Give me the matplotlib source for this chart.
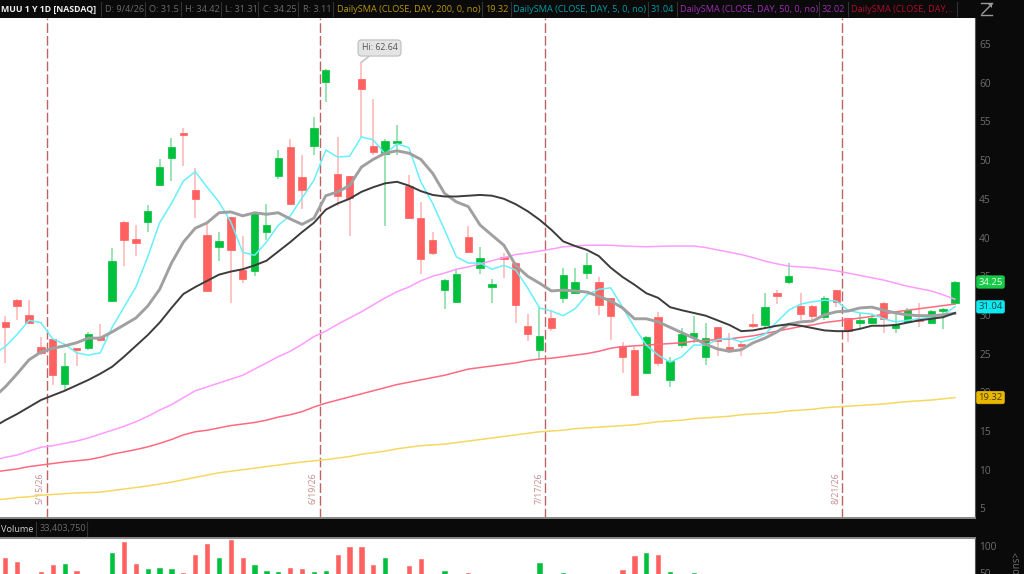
import matplotlib
matplotlib.use("Agg")
import matplotlib.pyplot as plt
from matplotlib.lines import Line2D
from matplotlib.patches import Polygon
from matplotlib.transforms import blended_transform_factory

# daily bars
opens = [29.1, 31.9, 30.0, 25.85, 26.9, 21.1, 25.7, 25.7, 27.2, 31.8,
         42.0, 39.8, 42.0, 46.8, 50.3, 53.5, 46.1, 40.3, 38.8, 42.6,
         35.8, 35.7, 40.7, 47.9, 51.7, 47.8, 51.8, 60.1, 48.2, 47.9,
         60.5, 51.8, 50.8, 52.2, 46.7, 42.5, 39.7, 33.2, 31.7, 40.1,
         36.1, 33.6, 37.5, 36.7, 28.6, 25.5, 29.6, 32.2, 32.8, 35.4,
         34.25, 32.2, 26.0, 25.5, 22.5, 29.7, 21.6, 26.1, 27.2, 24.6,
         28.4, 25.85, 26.2, 28.8, 28.7, 32.8, 34.25, 31.15, 31.15, 29.7,
         33.2, 29.6, 29.0, 29.0, 31.5, 28.3, 29.1, 29.6, 29.0, 30.5, 31.5]
highs = [29.9, 32.1, 31.9, 27.2, 26.9, 25.1, 25.7, 27.8, 28.8, 38.7,
         42.1, 41.6, 44.2, 50.1, 52.9, 54.1, 49.0, 41.7, 40.7, 42.6,
         40.2, 43.2, 44.3, 51.3, 52.7, 50.7, 55.6, 61.8, 53.0, 47.9,
         62.64, 57.9, 52.7, 54.5, 48.1, 44.6, 40.7, 34.6, 35.9, 41.5,
         38.8, 34.6, 38.0, 36.8, 30.1, 30.9, 30.6, 36.1, 36.1, 38.0,
         34.9, 32.2, 26.5, 25.85, 27.3, 30.4, 24.6, 28.3, 29.9, 29.0,
         28.4, 27.7, 26.6, 30.1, 32.8, 33.2, 36.7, 32.8, 31.3, 32.4,
         33.2, 29.6, 30.25, 30.0, 31.7, 30.25, 30.9, 31.5, 30.6, 30.9, 34.42]
lows = [23.8, 29.3, 29.0, 24.8, 20.95, 20.3, 23.4, 25.5, 26.6, 31.7,
        36.3, 37.6, 40.7, 46.8, 47.3, 49.2, 42.5, 33.1, 37.0, 31.5,
        34.1, 35.0, 39.7, 47.6, 44.2, 43.7, 50.7, 57.5, 44.1, 40.2,
        53.0, 50.7, 41.5, 50.7, 42.5, 35.3, 37.7, 30.8, 31.5, 38.0,
        35.3, 31.5, 34.8, 29.0, 26.6, 24.3, 27.9, 31.5, 32.7, 34.6,
        30.0, 26.8, 22.5, 19.65, 22.5, 23.4, 20.7, 25.7, 26.4, 23.5,
        24.7, 25.1, 24.7, 28.3, 28.3, 31.4, 34.0, 29.3, 29.1, 29.3,
        31.0, 26.5, 28.3, 28.8, 27.7, 27.7, 29.0, 28.4, 28.8, 28.2, 31.31]
closes = [28.4, 31.15, 29.0, 25.1, 22.25, 23.4, 25.5, 27.5, 26.8, 37.0,
          39.7, 39.3, 43.4, 49.1, 51.7, 53.2, 45.0, 33.1, 39.5, 38.4,
          34.6, 43.2, 41.6, 50.3, 44.3, 46.1, 54.1, 61.6, 45.4, 45.1,
          59.2, 51.0, 52.5, 52.5, 42.5, 37.2, 38.0, 34.5, 35.3, 38.1,
          37.3, 34.0, 37.2, 31.3, 27.5, 27.3, 28.3, 35.2, 34.25, 36.4,
          31.3, 29.9, 24.6, 19.65, 27.2, 23.8, 24.05, 27.5, 27.7, 27.0,
          26.6, 25.6, 26.0, 28.6, 31.0, 32.4, 35.0, 30.1, 29.9, 32.2,
          31.7, 27.9, 29.3, 29.6, 29.5, 28.8, 30.6, 29.2, 30.5, 30.8, 34.25]

# volume in millions, bars under 48 are below the visible part of the panel
volume = [78, 70, 42, 51, 64, 67, 54, 40, 38, 87,
          107, 67, 58, 59, 58, 50, 83, 104, 78, 111,
          78, 65, 54, 51, 59, 57, 52, 54, 83, 98,
          98, 65, 78, 42, 63, 76, 44, 54, 40, 50.5,
          38, 36, 40, 42, 38, 68, 40, 50.5, 38, 36,
          40, 42, 56, 82, 87, 83, 52, 40, 50.5, 38,
          36, 34, 32, 36, 40, 34, 42, 36, 32, 34,
          36, 40, 30, 28, 34, 30, 32, 30, 28, 26, 33]

# moving averages, first value is the bar just off the left edge
sma200 = [6.1, 6.2, 6.4, 6.5, 6.7, 6.8, 6.9, 7.0, 7.05, 7.1, 7.3,
          7.5, 7.7, 7.9, 8.15, 8.4, 8.7, 9.0, 9.3, 9.6, 9.8,
          10.0, 10.2, 10.4, 10.6, 10.8, 11.0, 11.15, 11.3, 11.5, 11.7,
          12.0, 12.2, 12.4, 12.7, 12.9, 13.1, 13.2, 13.3, 13.5, 13.7,
          13.9, 14.1, 14.3, 14.5, 14.7, 14.9, 15.0, 15.1, 15.3, 15.4,
          15.5, 15.6, 15.7, 15.8, 16.0, 16.2, 16.3, 16.4, 16.6, 16.7,
          16.8, 16.9, 17.1, 17.2, 17.3, 17.4, 17.6, 17.7, 17.8, 18.0,
          18.1, 18.2, 18.3, 18.4, 18.5, 18.65, 18.8, 18.9, 19.0, 19.15, 19.32]
sma_red = [9.7, 9.9, 10.1, 10.4, 10.6, 10.8, 11.0, 11.15, 11.3, 11.6, 12.0,
           12.3, 12.6, 12.95, 13.4, 13.9, 14.5, 14.9, 15.1, 15.4, 15.7,
           15.9, 16.1, 16.4, 16.8, 17.1, 17.5, 18.1, 18.6, 19.0, 19.4,
           19.8, 20.2, 20.6, 21.0, 21.3, 21.6, 21.9, 22.2, 22.6, 23.0,
           23.2, 23.4, 23.6, 23.8, 24.1, 24.3, 24.4, 24.6, 24.8, 25.0,
           25.3, 25.7, 25.9, 26.0, 26.1, 26.2, 26.3, 26.4, 26.6, 26.7,
           26.8, 26.9, 27.1, 27.3, 27.6, 27.9, 28.2, 28.5, 28.7, 29.0,
           29.2, 29.4, 29.6, 29.8, 30.1, 30.4, 30.6, 30.8, 31.0, 31.2, 31.4]
sma50 = [11.2, 11.6, 11.9, 12.4, 12.9, 13.1, 13.4, 13.7, 14.1, 14.6, 15.1,
         15.6, 16.2, 16.9, 17.7, 18.4, 19.3, 20.2, 20.7, 21.2, 21.7,
         22.2, 23.0, 23.8, 24.6, 25.3, 26.2, 27.2, 27.9, 28.8, 29.6,
         30.4, 31.3, 32.2, 33.0, 33.6, 34.4, 35.0, 35.4, 35.9, 36.2,
         36.6, 37.0, 37.4, 37.8, 38.0, 38.25, 38.5, 38.8, 38.9, 39.0,
         39.0, 39.0, 38.9, 38.85, 38.8, 38.85, 38.9, 38.9, 38.9, 38.7,
         38.4, 38.1, 37.8, 37.4, 36.95, 36.6, 36.3, 36.2, 36.1, 35.9,
         35.7, 35.4, 35.1, 34.8, 34.5, 34.1, 33.7, 33.4, 33.1, 32.6, 32.02]
sma_black = [15.5, 16.4, 17.2, 18.1, 19.0, 19.6, 20.2, 20.9, 21.6, 22.4, 23.3,
             24.6, 26.0, 27.4, 29.0, 30.9, 32.7, 33.6, 34.4, 35.2, 35.6,
             35.9, 36.4, 37.0, 38.2, 39.4, 40.7, 41.9, 43.6, 44.4, 45.0,
             45.9, 46.5, 47.0, 47.2, 46.7, 46.0, 45.5, 45.3, 45.3, 45.4,
             45.5, 45.4, 45.0, 44.3, 43.4, 42.3, 41.0, 39.5, 38.9, 38.4,
             37.6, 36.1, 34.9, 33.9, 32.8, 32.2, 31.0, 30.6, 30.25, 29.9,
             29.3, 28.7, 27.9, 28.0, 28.3, 28.6, 28.8, 28.6, 28.3, 28.0,
             27.9, 27.9, 28.2, 28.6, 28.6, 28.7, 29.0, 29.3, 29.5, 29.7, 30.25]
sma_grey = [19.3, 20.7, 22.4, 24.2, 25.2, 25.7, 26.0, 26.4, 27.0, 27.0, 27.8,
            28.7, 29.6, 31.15, 33.3, 36.7, 39.4, 41.2, 41.9, 43.2, 43.3,
            42.8, 43.2, 43.0, 43.2, 42.4, 41.7, 42.5, 45.4, 45.9, 46.7,
            49.1, 50.1, 50.9, 51.2, 50.9, 50.1, 48.3, 45.7, 44.6, 44.0,
            41.6, 40.3, 39.0, 36.4, 35.0, 34.1, 33.1, 33.2, 33.1, 32.95,
            32.4, 31.8, 30.9, 29.5, 29.5, 29.1, 28.4, 27.7, 27.0, 26.2,
            25.6, 25.3, 25.5, 26.4, 27.0, 27.8, 28.8, 29.1, 29.2, 30.0,
            30.4, 30.5, 30.9, 31.0, 30.6, 30.25, 30.0, 29.9, 29.9, 30.0, 30.2]
sma5 = [24.9, 25.9, 27.5, 29.3, 29.0, 26.9, 26.2, 25.1, 24.8, 25.1, 28.4,
        31.0, 33.6, 37.5, 41.9, 44.4, 47.3, 48.5, 46.5, 44.6, 42.0,
        38.1, 37.7, 39.4, 41.6, 42.8, 45.1, 47.4, 51.3, 50.4, 50.5,
        53.0, 52.6, 50.8, 52.1, 51.6, 47.2, 44.4, 41.0, 37.5, 36.7,
        36.7, 35.9, 36.4, 35.8, 33.5, 30.9, 30.5, 29.9, 30.8, 32.6,
        33.3, 33.5, 31.0, 28.4, 26.1, 24.8, 23.9, 24.6, 26.1, 26.1,
        26.8, 27.0, 26.5, 26.9, 27.5, 29.1, 30.6, 31.4, 31.7, 31.9,
        31.8, 30.6, 30.25, 30.1, 29.5, 29.1, 29.3, 29.5, 29.7, 30.0, 31.04]

# bar numbers of the date lines, they sit between two sessions
date_lines = [3.5, 26.5, 45.5, 70.5]
date_labels = ["5/15/26", "6/19/26", "7/17/26", "8/21/26"]
price_ticks = [5, 10, 15, 20, 25, 30, 35, 40, 45, 50, 55, 60, 65]

GREEN = "#00c03c"
RED = "#ff6060"
W, H = 1024, 574

plt.rcParams["font.family"] = ["Open Sans", "DejaVu Sans"]
fig = plt.figure(figsize=(W / 100, H / 100), dpi=100, facecolor="#0a0a0a")


def pixel_axes(left, top, right, bottom):
    return fig.add_axes([left / W, 1 - bottom / H, (right - left) / W, (bottom - top) / H])


ax = pixel_axes(0, 18, 975, 518)
vol = pixel_axes(0, 538, 975, 574)
x = list(range(len(closes)))
x_sma = list(range(-1, len(closes)))

# candles
for i in x:
    up = closes[i] >= opens[i]
    body = GREEN if up else RED
    wick = "#7fdc9c" if up else "#ffb4b4"
    ax.vlines(i, lows[i], highs[i], color=wick, lw=1.1, zorder=2)
    ax.bar(i, abs(closes[i] - opens[i]), bottom=min(opens[i], closes[i]), width=0.62,
           color=body, edgecolor=body, lw=0.5, zorder=3)
    vol.bar(i, volume[i], width=0.36, color=body, edgecolor=body, lw=0.4)

ax.plot(x_sma, sma200, color="#f6d860", lw=1.1, zorder=4)
ax.plot(x_sma, sma_red, color="#ff6a80", lw=1.1, zorder=4)
ax.plot(x_sma, sma50, color="#ff9cff", lw=1.1, zorder=4)
ax.plot(x_sma, sma5, color="#66f0fa", lw=1.1, zorder=5)
ax.plot(x_sma, sma_grey, color="#a0a0a0", lw=2.1, zorder=6)
ax.plot(x_sma, sma_black, color="#3c3c3c", lw=1.4, zorder=6)

# date markers
for d, lab in zip(date_lines, date_labels):
    ax.axvline(d, color="#bc6464", lw=1.0, dashes=(7, 2.2), zorder=1)
    ax.annotate(lab, xy=(d, 0), xycoords=ax.get_xaxis_transform(), xytext=(-2, 14),
                textcoords="offset pixels", rotation=90, ha="right", va="bottom",
                fontsize=6.3, color="#c48a8a")

ax.set_xlim(-0.447, 81.69)
ax.set_ylim(3.76, 68.36)
ax.set_xticks([])
ax.set_yticks(price_ticks)
ax.yaxis.tick_right()
ax.tick_params(axis="y", length=0, pad=3, labelsize=7.3, labelcolor="#6e6e6e")
for s in ["top", "left"]:
    ax.spines[s].set_visible(False)
ax.spines["right"].set_color("#555555")
ax.spines["bottom"].set_color("#8a8a8a")
ax.spines["bottom"].set_linewidth(1.4)

vol.set_xlim(ax.get_xlim())
vol.set_ylim(48.1, 114.8)
vol.set_xticks([])
vol.set_yticks([100, 50])
vol.yaxis.tick_right()
vol.tick_params(axis="y", length=0, pad=3, labelsize=7.3, labelcolor="#6e6e6e")
for s in ["left", "bottom"]:
    vol.spines[s].set_visible(False)
vol.spines["right"].set_color("#555555")
vol.spines["top"].set_color("#8a8a8a")
vol.spines["top"].set_linewidth(1.4)

# high bubble
ax.annotate("Hi: 62.64", xy=(30, highs[30]), xytext=(379.5, H - 48), textcoords="figure pixels",
            ha="center", va="center", fontsize=6.4, color="#555555", zorder=9,
            bbox=dict(boxstyle="round,pad=0.4", fc="#e4e4e4", ec="#bdbdbd", lw=0.8),
            arrowprops=dict(arrowstyle="-", color="#c4c4c4", lw=1.2, shrinkA=0, shrinkB=0))

# last value tags on the price scale
tags = [(closes[-1], "34.25", "#18c848", "#e8ffe8"),
        (sma5[-1], "31.04", "#10e8f0", "#114444"),
        (sma200[-1], "19.32", "#e8b800", "#4a3a00")]
trans = blended_transform_factory(fig.transFigure, ax.transData)
for val, lab, bg, fg in tags:
    ax.text(990.5 / W, val, lab, transform=trans, ha="center", va="center", fontsize=6.8,
            color=fg, zorder=10, clip_on=False,
            bbox=dict(boxstyle="round,pad=0.18", fc=bg, ec=bg, lw=0.5))

# header strip: text start, label, colour
header = [(1, "MUU 1 Y 1D [NASDAQ]", "#f0f0f0", True),
          (105, "D: 9/4/26", "#6c6c6c", False),
          (149, "O: 31.5", "#6c6c6c", False),
          (185, "H: 34.42", "#6c6c6c", False),
          (225, "L: 31.31", "#6c6c6c", False),
          (263, "C: 34.25", "#6c6c6c", False),
          (303, "R: 3.11", "#6c6c6c", False),
          (337, "DailySMA (CLOSE, DAY, 200, 0, no)", "#b8960a", False),
          (485, "19.32", "#b8960a", False),
          (513, "DailySMA (CLOSE, DAY, 5, 0, no)", "#009ea6", False),
          (651, "31.04", "#009ea6", False),
          (680, "DailySMA (CLOSE, DAY, 50, 0, no)", "#a02cb4", False),
          (822, "32.02", "#a02cb4", False),
          (851, "DailySMA (CLOSE, DAY,...", "#b00c2c", False)]
for px, lab, col, bold in header:
    fig.text(px / W, 1 - 9 / H, lab, color=col, fontsize=6.3 if bold else 6.6, va="center",
             fontweight="bold" if bold else "normal")
for px in [101, 145, 181, 221, 258, 298, 333, 482, 511, 648, 677, 819, 848, 957]:
    fig.add_artist(Line2D([px / W, px / W], [1 - 16 / H, 1 - 2 / H], color="#333333", lw=0.8))

# expand icon top right
for xs, ys in [([981, 992], [3, 3]), ([981, 992], [15, 15]), ([982, 992], [14, 4])]:
    fig.add_artist(Line2D([a / W for a in xs], [1 - b / H for b in ys], color="#9a9a9a", lw=1))
fig.add_artist(Polygon([(988 / W, 1 - 4 / H), (992 / W, 1 - 4 / H), (992 / W, 1 - 8 / H)],
                       closed=True, fc="#9a9a9a", ec="none", transform=fig.transFigure))

# volume strip
fig.text(1 / W, 1 - 529 / H, "Volume", color="#cfcfcf", fontsize=6.6, va="center")
fig.text(40 / W, 1 - 529 / H, "33,403,750", color="#6c6c6c", fontsize=6.6, va="center")
for px in [36, 87]:
    fig.add_artist(Line2D([px / W, px / W], [1 - 536 / H, 1 - 522 / H], color="#333333", lw=0.8))
fig.text(1017 / W, 1 - 551 / H, "Millions>", color="#6e6e6e", fontsize=7, rotation=90,
         ha="center", va="top")

fig.savefig("out.png", dpi=100, facecolor=fig.get_facecolor())
